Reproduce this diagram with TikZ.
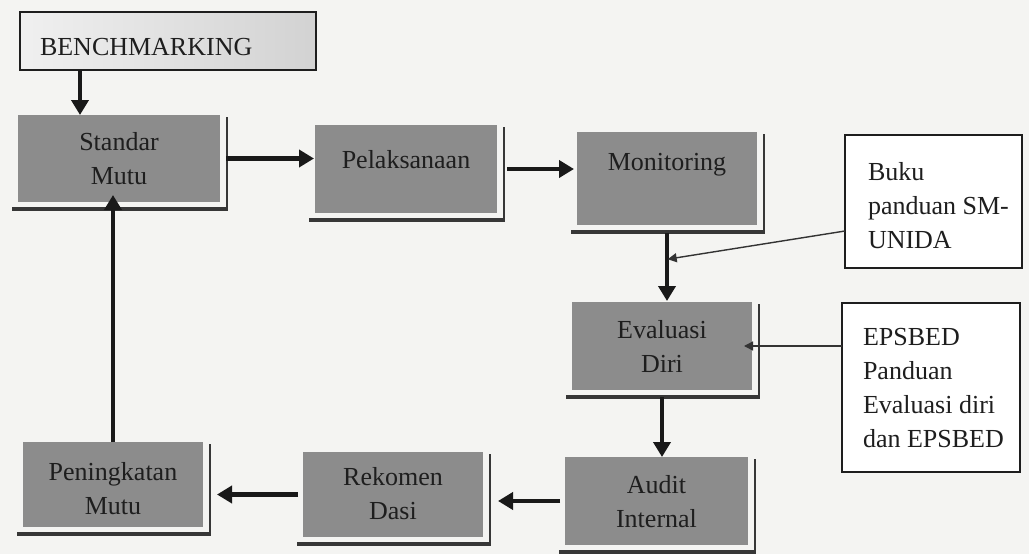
\documentclass[tikz,border=0pt]{standalone}
\usepackage{fontspec}
\setmainfont{Liberation Serif}
\usetikzlibrary{arrows.meta,calc}
\definecolor{bg}{RGB}{244,244,242}
\definecolor{boxg}{RGB}{140,140,140}
\definecolor{ink}{RGB}{30,30,30}
\definecolor{shd}{RGB}{55,55,55}
\newcommand{\gtext}[4]{\parbox[c][#2][t]{#1}{\centering\rule{0pt}{#3}#4}}
\newcommand{\wtext}[5]{\parbox[c][#2][t]{#1}{\raggedright\leftskip=#4\rule{0pt}{#3}#5}}
\begin{document}
\begin{tikzpicture}[x=1pt,y=-1pt,
  every node/.style={inner sep=0pt, outer sep=0pt, text=ink, font=\fontsize{26}{34}\selectfont},
  gbox/.style={fill=boxg, draw=none},
  wbox/.style={fill=white, draw=ink, line width=1.8pt},
  bmbox/.style={draw=ink, line width=1.8pt, left color=gray!12, right color=gray!35},
  bigarrow/.style={draw=black!90, line width=4.5pt, -{Triangle[length=15pt,width=17pt]}},
  thinarrow/.style={draw=black!80, line width=1.4pt, -{Triangle[length=9pt,width=9pt]}},
  shb/.style={draw=shd, line width=3.5pt},
  shr/.style={draw=shd, line width=1.6pt}]
\useasboundingbox (0,0) rectangle (1029,554);
\fill[bg] (0,0) rectangle (1029,554);

% title box
\node[bmbox] (bm) at (168,41) {\wtext{296pt}{58pt}{44pt}{20pt}{BENCHMARKING}};

% grey process boxes
\node[gbox] (sm)  at (119,158.5) {\gtext{202pt}{87pt}{35pt}{Standar\\Mutu}};
\node[gbox] (pel) at (406,169)   {\gtext{182pt}{88pt}{43pt}{Pelaksanaan}};
\node[gbox] (mon) at (667,178.5) {\gtext{180pt}{93pt}{38pt}{Monitoring}};
\node[gbox] (eva) at (662,346)   {\gtext{180pt}{88pt}{36pt}{Evaluasi\\Diri}};
\node[gbox] (aud) at (656.5,501) {\gtext{183pt}{88pt}{36pt}{Audit\\Internal}};
\node[gbox] (rek) at (393,494.5) {\gtext{180pt}{85pt}{33pt}{Rekomen\\Dasi}};
\node[gbox] (pen) at (113,484.5) {\gtext{180pt}{85pt}{38pt}{Peningkatan\\Mutu}};

% shadow frames
\foreach \n in {sm,pel,mon,eva,aud,rek,pen}{
  \draw[shb] ([xshift=-6pt,yshift=-7pt]\n.south west) -- ([xshift=7.5pt,yshift=-7pt]\n.south east);
  \draw[shr] ([xshift=7pt,yshift=-2pt]\n.north east) -- ([xshift=7pt,yshift=-8pt]\n.south east);
}

% white reference boxes
\node[wbox] (buku) at (933.5,201.5) {\wtext{177pt}{133pt}{45pt}{23pt}{Buku\\panduan SM-\\UNIDA}};
\node[wbox] (eps)  at (931,387.5)   {\wtext{178pt}{169pt}{42pt}{21pt}{EPSBED\\Panduan\\Evaluasi diri\\dan EPSBED}};

% main flow
\coordinate (bmx) at ([xshift=60pt]bm.south west);
\draw[bigarrow] (bmx) -- (bmx |- sm.north);
\draw[bigarrow, shorten <=6pt, shorten >=1pt] (sm.east) -- (sm.east -| pel.west);
\draw[bigarrow, shorten <=10pt, shorten >=3pt] (pel.east) -- (pel.east -| mon.west);
\draw[bigarrow, shorten <=8pt, shorten >=1pt] (mon.south) -- (mon.south |- eva.north);
\draw[bigarrow, shorten <=7pt] (eva.south) -- (eva.south |- aud.north);
\draw[bigarrow, shorten <=5pt, shorten >=15pt] (aud.west) -- (aud.west -| rek.east);
\draw[bigarrow, shorten <=5pt, shorten >=14pt] (rek.west) -- (rek.west -| pen.east);
\draw[bigarrow, shorten >=-7pt] (pen.north) -- (pen.north |- sm.south);

% reference inputs
\coordinate (jn) at ($(mon.south)!0.45!(eva.north)$);
\draw[thinarrow, shorten >=3pt] ([yshift=-29.5pt]buku.west) -- (jn);
\draw[thinarrow, shorten >=-8pt] (eps.west |- eva.east) -- (eva.east);
\end{tikzpicture}
\end{document}
